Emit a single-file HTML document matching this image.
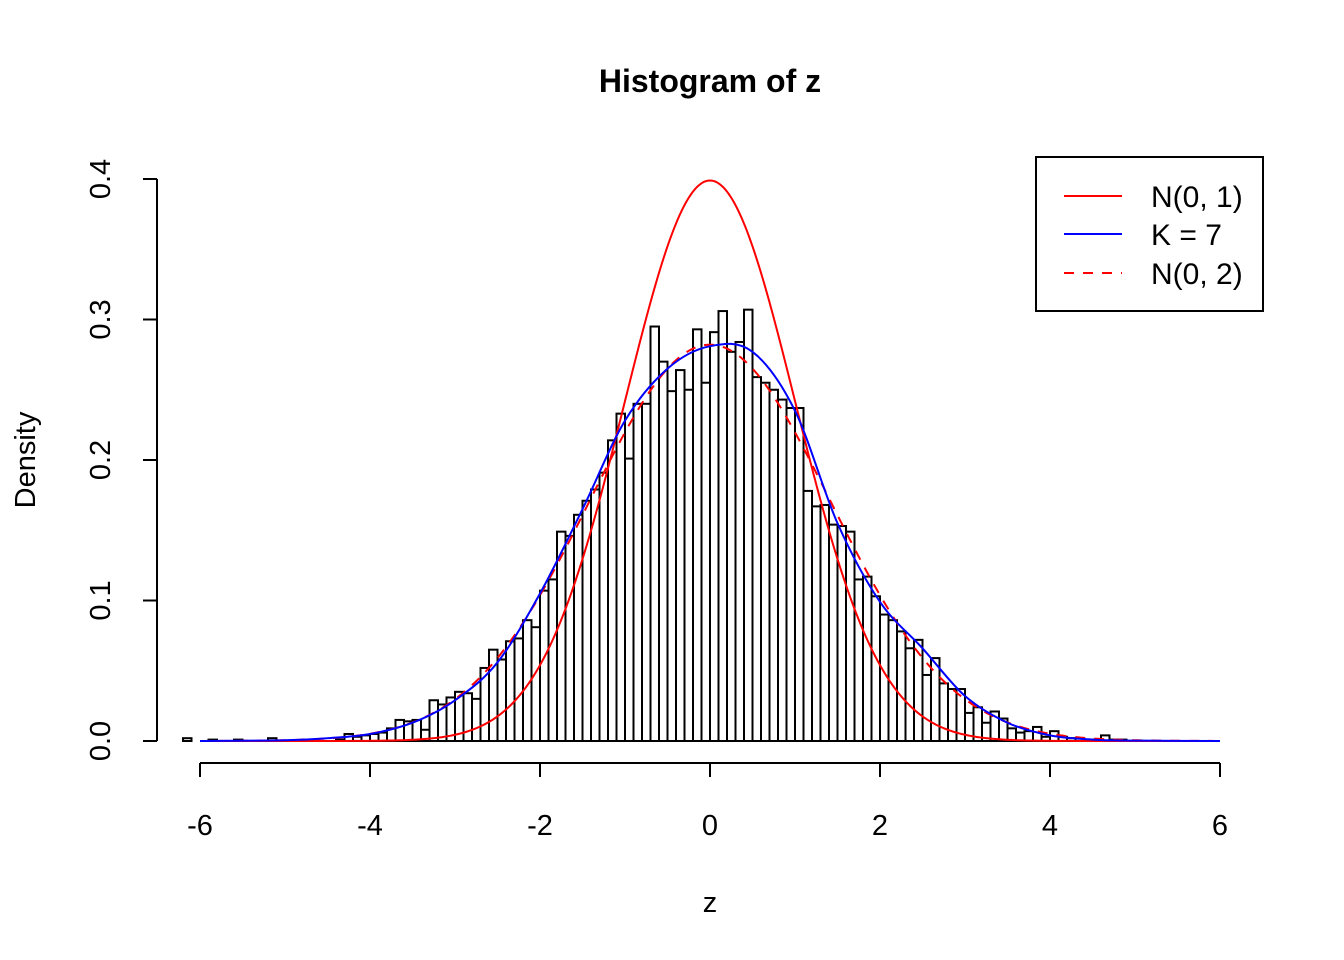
<!DOCTYPE html>
<html><head><meta charset="utf-8"><style>
html,body{margin:0;padding:0;background:#fff;}
svg{display:block;font-family:"Liberation Sans",Arial,sans-serif;}
</style></head><body>
<svg id="chart" width="1344" height="960" viewBox="0 0 1344 960" xmlns="http://www.w3.org/2000/svg">
<rect width="1344" height="960" fill="#fff"/>
<text x="710" y="92" text-anchor="middle" font-size="32" font-weight="bold">Histogram of z</text>
<g id="bars"></g>
<g id="curves"></g>
<g id="axes"></g>
<text x="710" y="912" text-anchor="middle" font-size="29">z</text>
<text transform="translate(35,460) rotate(-90)" text-anchor="middle" font-size="29">Density</text>
<g>
<rect x="1036" y="157" width="227" height="154" fill="#fff" stroke="#000" stroke-width="2"/>
<g><line x1="1064" y1="196" x2="1122" y2="196" stroke="#f00" stroke-width="2"/><text x="1151" y="207" font-size="30">N(0, 1)</text></g>
<g><line x1="1064" y1="234" x2="1122" y2="234" stroke="#00f" stroke-width="2"/><text x="1151" y="245" font-size="30">K = 7</text></g>
<g><line x1="1064" y1="273" x2="1122" y2="273" stroke="#f00" stroke-width="2" stroke-dasharray="10,9"/><text x="1151" y="284" font-size="30">N(0, 2)</text></g>
</g>
</svg>
<script>
const binStart = -6.2;
const binWidth = 0.1;
const densities = [0.002,0,0,0.001,0,0,0.001,0,0,0,0.002,0,0,0,0.001,0,0,0,0.001,0.005,0.003,0.004,0.005,0.006,0.009,0.015,0.014,0.015,0.008,0.029,0.026,0.031,0.035,0.034,0.030,0.052,0.065,0.058,0.071,0.073,0.086,0.081,0.107,0.115,0.149,0.146,0.161,0.171,0.179,0.191,0.214,0.233,0.201,0.240,0.240,0.295,0.270,0.249,0.264,0.250,0.293,0.255,0.291,0.306,0.277,0.284,0.307,0.259,0.255,0.250,0.243,0.237,0.237,0.178,0.167,0.168,0.154,0.153,0.149,0.115,0.117,0.103,0.090,0.086,0.078,0.066,0.072,0.047,0.059,0.041,0.037,0.037,0.020,0.024,0.013,0.021,0.016,0.009,0.006,0.007,0.010,0.003,0.007,0.003,0.002,0.002,0.001,0.001,0.004,0.001,0.001];
const kX = [-6,-5,-4.5,-4,-3.5,-3,-2.5,-2,-1.5,-1,-0.5,0,0.5,1,1.5,2,2.5,3,3.5,4,4.5,5,6];
const kY = [0,0.0005,0.002,0.005,0.013,0.029,0.056,0.105,0.165,0.228,0.265,0.281,0.277,0.235,0.155,0.099,0.066,0.032,0.013,0.004,0.001,0.0003,0];
const normalMeans = [0, 0];
const normalVars = [1, 2];
const xTicks = [-6,-4,-2,0,2,4,6];
const yTicks = [0,0.1,0.2,0.3,0.4];

const NS = "http://www.w3.org/2000/svg";
const sx = v => 710 + 85 * v;
const sy = v => 741 - 1405 * v;
function mk(tag, attrs, parent) {
  const e = document.createElementNS(NS, tag);
  for (const k in attrs) e.setAttribute(k, attrs[k]);
  parent.appendChild(e);
  return e;
}
const bars = document.getElementById('bars');
densities.forEach((d, i) => {
  const x0 = binStart + i * binWidth, x1 = x0 + binWidth;
  const r = mk('rect', {x: sx(x0), y: sy(d), width: sx(x1) - sx(x0), height: sy(0) - sy(d), fill: 'none', stroke: '#000', 'stroke-width': 2}, bars);
  
  
});
const curves = document.getElementById('curves');
const styles = [{stroke: '#f00', dash: 'none', name: 'n01-curve'}, {stroke: '#f00', dash: '10,9', name: 'n02-curve'}];
normalMeans.forEach((m, j) => {
  const s = Math.sqrt(normalVars[j]);
  let pts = [];
  for (let x = -6; x <= 6.0001; x += 0.02) {
    const y = Math.exp(-0.5 * ((x - m) / s) ** 2) / (s * Math.sqrt(2 * Math.PI));
    pts.push(sx(x).toFixed(2) + ',' + sy(y).toFixed(2));
  }
  const p = mk('polyline', {points: pts.join(' '), fill: 'none', stroke: styles[j].stroke, 'stroke-width': 2, 'stroke-dasharray': styles[j].dash}, curves);
  
  
});
// K=7 curve via Catmull-Rom through sampled points
{
  const P = kX.map((x, i) => [sx(x), sy(kY[i])]);
  let d = 'M' + P[0][0] + ',' + P[0][1];
  for (let i = 0; i < P.length - 1; i++) {
    const p0 = P[Math.max(0, i - 1)], p1 = P[i], p2 = P[i + 1], p3 = P[Math.min(P.length - 1, i + 2)];
    const c1 = [p1[0] + (p2[0] - p0[0]) / 6, p1[1] + (p2[1] - p0[1]) / 6];
    const c2 = [p2[0] - (p3[0] - p1[0]) / 6, p2[1] - (p3[1] - p1[1]) / 6];
    d += ` C${c1[0]},${c1[1]} ${c2[0]},${c2[1]} ${p2[0]},${p2[1]}`;
  }
  const p = mk('path', {d: d, fill: 'none', stroke: '#00f', 'stroke-width': 2}, curves);
  
  
}
const axes = document.getElementById('axes');
const xl = mk('line', {x1: sx(xTicks[0]), y1: 763, x2: sx(xTicks[xTicks.length - 1]), y2: 763, stroke: '#000', 'stroke-width': 2}, axes);


xTicks.forEach(t => {
  mk('line', {x1: sx(t), y1: 763, x2: sx(t), y2: 777, stroke: '#000', 'stroke-width': 2}, axes);
  const tx = mk('text', {x: sx(t), y: 835, 'text-anchor': 'middle', 'font-size': 29}, axes);
  tx.textContent = t;
  
  
});
const yl = mk('line', {x1: 157, y1: sy(yTicks[0]), x2: 157, y2: sy(yTicks[yTicks.length - 1]), stroke: '#000', 'stroke-width': 2}, axes);


yTicks.forEach(t => {
  mk('line', {x1: 143, y1: sy(t), x2: 157, y2: sy(t), stroke: '#000', 'stroke-width': 2}, axes);
  const tx = mk('text', {transform: `translate(110,${sy(t)}) rotate(-90)`, 'text-anchor': 'middle', 'font-size': 29}, axes);
  tx.textContent = t.toFixed(1);
  
  
});
</script>
</body></html>
